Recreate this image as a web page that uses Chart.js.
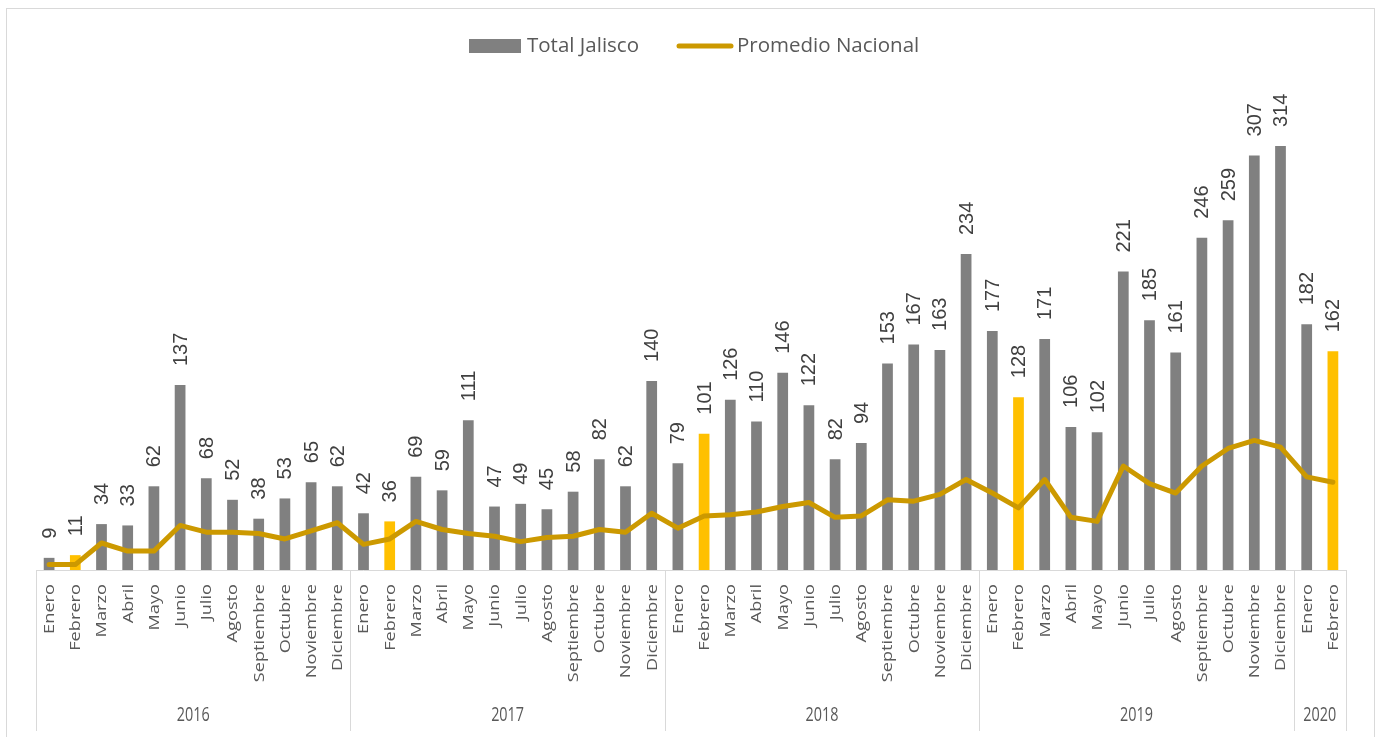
<!DOCTYPE html>
<html lang="es">
<head>
<meta charset="utf-8">
<title>Total Jalisco vs Promedio Nacional</title>
<script src="https://cdn.jsdelivr.net/npm/chart.js@4.4.1/dist/chart.umd.min.js"></script>
<style>
    html, body { margin: 0; padding: 0; background: #fff; }
    #wrap { position: relative; width: 1382px; height: 737px; overflow: hidden; }
    #frame {
        position: absolute; left: 6px; top: 8px; width: 1369px; height: 760px;
        border: 1px solid #d9d9d9; box-sizing: border-box;
    }
    #chart { position: absolute; left: 0; top: 0; }
</style>
</head>
<body>
<div id="wrap">
    <div id="frame"></div>
    <canvas id="chart" width="1382" height="737"></canvas>
</div>
<script>
// Data
const years = ['2016', '2017', '2018', '2019', '2020'];
const monthsPerYear = [12, 12, 12, 12, 2];
const monthNames = ['Enero', 'Febrero', 'Marzo', 'Abril', 'Mayo', 'Junio', 'Julio',
    'Agosto', 'Septiembre', 'Octubre', 'Noviembre', 'Diciembre'];

const totalJalisco = [
    9, 11, 34, 33, 62, 137, 68, 52, 38, 53, 65, 62,
    42, 36, 69, 59, 111, 47, 49, 45, 58, 82, 62, 140,
    79, 101, 126, 110, 146, 122, 82, 94, 153, 167, 163, 234,
    177, 128, 171, 106, 102, 221, 185, 161, 246, 259, 307, 314,
    182, 162
];
const promedioNacional = [
    4, 4, 20, 14, 14, 33, 28, 28, 27, 23, 29, 35,
    19, 23, 36, 30, 27, 25, 21, 24, 25, 30, 28, 42,
    31, 40, 41, 43, 47, 50, 39, 40, 52, 51, 56, 67,
    57, 46, 67, 39, 36, 77, 64, 57, 77, 90, 96, 91,
    69, 65
];

// build category labels: one per month, with its year
const labels = [];
years.forEach((yr, yi) => {
    for (let m = 0; m < monthsPerYear[yi]; m++) {
        labels.push(monthNames[m]);
    }
});

const GRAY = '#808080';
const YELLOW = '#FFC000';
const GOLD = '#CC9900';
const AXIS = '#d9d9d9';
const TEXT = '#595959';

const barColors = labels.map(m => m === 'Febrero' ? YELLOW : GRAY);

// Draws value labels, category axis (months + years) and legend
const decorations = {
    id: 'decorations',
    afterDatasetsDraw(chart) {
        const ctx = chart.ctx;
        const x = chart.scales.x;
        const area = chart.chartArea;
        const barMeta = chart.getDatasetMeta(1);

        // value labels above bars
        ctx.save();
        ctx.fillStyle = '#404040';
        ctx.font = '20px "Liberation Sans", Arial, sans-serif';
        ctx.textAlign = 'left';
        ctx.textBaseline = 'middle';
        barMeta.data.forEach((el, i) => {
            ctx.save();
            ctx.translate(el.x + 1, el.y - 19);
            ctx.rotate(-Math.PI / 2);
            ctx.fillText(String(totalJalisco[i]), 0, 0);
            ctx.restore();
        });
        ctx.restore();

        // axis line
        ctx.save();
        ctx.strokeStyle = AXIS;
        ctx.lineWidth = 1;
        ctx.beginPath();
        ctx.moveTo(area.left, area.bottom + 0.5);
        ctx.lineTo(area.right, area.bottom + 0.5);
        ctx.stroke();

        // month labels
        ctx.fillStyle = TEXT;
        ctx.font = '14px "Open Sans", sans-serif';
        ctx.textAlign = 'right';
        ctx.textBaseline = 'middle';
        labels.forEach((m, i) => {
            ctx.save();
            ctx.translate(x.getPixelForValue(i) + 1, area.bottom + 14);
            ctx.rotate(-Math.PI / 2);
            ctx.scale(1.3, 1);
            ctx.fillText(m, 0, 0);
            ctx.restore();
        });

        // year groups
        const half = (x.getPixelForValue(1) - x.getPixelForValue(0)) / 2;
        let start = 0;
        const bounds = [x.getPixelForValue(0) - half];
        monthsPerYear.forEach(n => {
            start += n;
            bounds.push(x.getPixelForValue(start - 1) + half);
        });
        ctx.beginPath();
        bounds.forEach(b => {
            const px = Math.round(b) + 0.5;
            ctx.moveTo(px, area.bottom);
            ctx.lineTo(px, 731);
        });
        ctx.stroke();

        ctx.font = '20px "Open Sans", sans-serif';
        ctx.textAlign = 'center';
        years.forEach((yr, yi) => {
            const cx = (bounds[yi] + bounds[yi + 1]) / 2;
            ctx.save();
            ctx.translate(cx, 715);
            ctx.scale(0.72, 1);
            ctx.fillText(yr, 0, 0);
            ctx.restore();
        });
        ctx.restore();

        // legend
        ctx.save();
        ctx.font = '20.5px "Open Sans", sans-serif';
        ctx.textBaseline = 'middle';
        ctx.textAlign = 'left';
        const ly = 46;
        ctx.fillStyle = GRAY;
        ctx.fillRect(469, 39, 52, 14);
        ctx.fillStyle = TEXT;
        ctx.fillText(chart.data.datasets[1].label, 527, ly);
        ctx.strokeStyle = GOLD;
        ctx.lineWidth = 5;
        ctx.lineCap = 'round';
        ctx.beginPath();
        ctx.moveTo(679, ly);
        ctx.lineTo(731, ly);
        ctx.stroke();
        ctx.fillText(chart.data.datasets[0].label, 737, ly);
        ctx.restore();
    }
};

new Chart(document.getElementById('chart'), {
    data: {
        labels: labels,
        datasets: [{
            type: 'line',
            label: 'Promedio Nacional',
            data: promedioNacional,
            borderColor: GOLD,
            backgroundColor: GOLD,
            borderWidth: 5,
            pointRadius: 0,
            tension: 0,
            borderJoinStyle: 'round',
            borderCapStyle: 'round',
            order: 1
        }, {
            type: 'bar',
            label: 'Total Jalisco',
            data: totalJalisco,
            backgroundColor: barColors,
            barPercentage: 0.41,
            categoryPercentage: 1,
            order: 2
        }]
    },
    options: {
        responsive: false,
        animation: false,
        layout: { padding: { left: 36, right: 36, top: 90, bottom: 0 } },
        plugins: {
            legend: { display: false },
            tooltip: { enabled: false }
        },
        scales: {
            x: {
                type: 'category',
                offset: true,
                grid: { display: false },
                border: { display: false },
                ticks: { display: false },
                afterFit: s => { s.height = 167; }
            },
            y: {
                display: false,
                min: 0,
                max: 355.5
            }
        }
    },
    plugins: [decorations]
});
</script>
</body>
</html>
